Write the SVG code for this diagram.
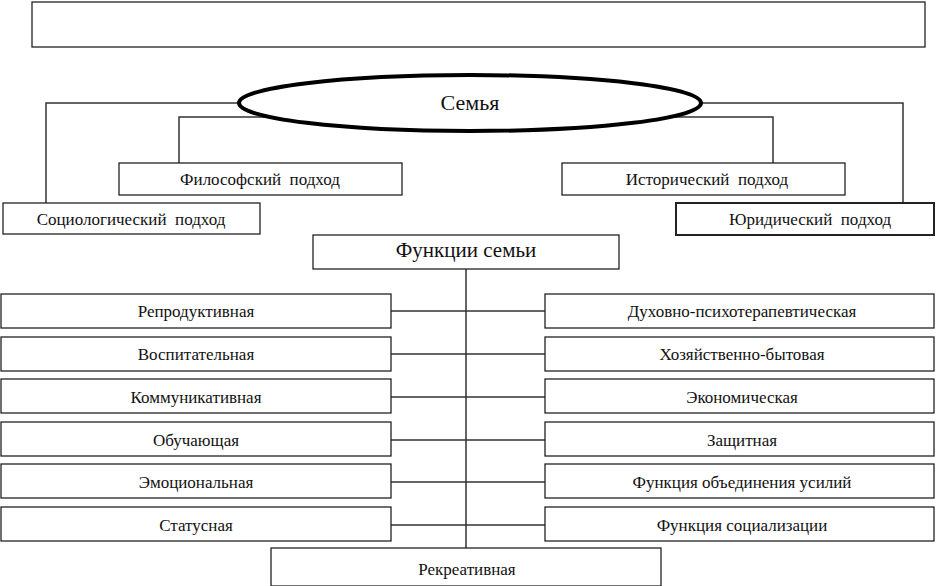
<svg xmlns="http://www.w3.org/2000/svg" width="936" height="586" viewBox="0 0 936 586" font-family="'Liberation Serif', 'Times New Roman', 'DejaVu Serif', serif">
<style>
rect{fill:#fff;stroke:#222;stroke-width:1.3}
text{font-family:'Liberation Serif','Times New Roman','DejaVu Serif',serif;font-size:17px;text-anchor:middle;fill:#111;white-space:pre}
.c{fill:none;stroke:#333;stroke-width:1.5}
</style>
<rect width="936" height="586" style="stroke:none"/>
<g id="connectors" class="c">
<path class="c" d="M240 103H46V204M700 103H903V203M300 117H179V163M640 117H773V163M466 269V548"/>
<path class="c" d="M391 311H545M391 354H545M391 397H545M391 440H545M391 482H545M391 525H545"/>
</g>
<g id="title"><rect x="32" y="2" width="893" height="45"/></g>
<g id="family"><ellipse cx="470" cy="103" rx="231" ry="28" fill="#fff" stroke="#000" stroke-width="4"/><text x="470" y="110" style="font-size:22px">Семья</text></g>
<g id="phil"><rect x="119" y="163" width="283" height="32"/><text x="260" y="185" xml:space="preserve">Философский  подход</text></g>
<g id="hist"><rect x="562" y="163" width="283" height="32"/><text x="707" y="185" xml:space="preserve">Исторический  подход</text></g>
<g id="soc"><rect x="3" y="203" width="257" height="31"/><text x="131" y="225" xml:space="preserve">Социологический  подход</text></g>
<g id="jur"><rect x="676" y="203" width="258" height="32" style="stroke-width:2"/><text x="810" y="225" xml:space="preserve">Юридический  подход</text></g>
<g id="func"><rect x="313" y="235" width="306" height="34"/><text x="466" y="257" style="font-size:21px">Функции семьи</text></g>
<g id="l1"><rect x="1" y="294" width="390" height="34"/><text x="196" y="317">Репродуктивная</text></g>
<g id="l2"><rect x="1" y="337" width="390" height="34"/><text x="196" y="360">Воспитательная</text></g>
<g id="l3"><rect x="1" y="379" width="390" height="34"/><text x="196" y="403">Коммуникативная</text></g>
<g id="l4"><rect x="1" y="422" width="390" height="34"/><text x="196" y="446">Обучающая</text></g>
<g id="l5"><rect x="1" y="464" width="390" height="34"/><text x="196" y="488">Эмоциональная</text></g>
<g id="l6"><rect x="1" y="507" width="390" height="34"/><text x="196" y="531">Статусная</text></g>
<g id="r1"><rect x="545" y="294" width="389" height="34"/><text x="742" y="317">Духовно-психотерапевтическая</text></g>
<g id="r2"><rect x="545" y="337" width="389" height="34"/><text x="742" y="360">Хозяйственно-бытовая</text></g>
<g id="r3"><rect x="545" y="379" width="389" height="34"/><text x="742" y="403">Экономическая</text></g>
<g id="r4"><rect x="545" y="422" width="389" height="34"/><text x="742" y="446">Защитная</text></g>
<g id="r5"><rect x="545" y="464" width="389" height="34"/><text x="742" y="488">Функция объединения усилий</text></g>
<g id="r6"><rect x="545" y="507" width="389" height="34"/><text x="742" y="531">Функция социализации</text></g>
<g id="rec"><rect x="271" y="548" width="390" height="38"/><text x="467" y="575">Рекреативная</text></g>
</svg>
